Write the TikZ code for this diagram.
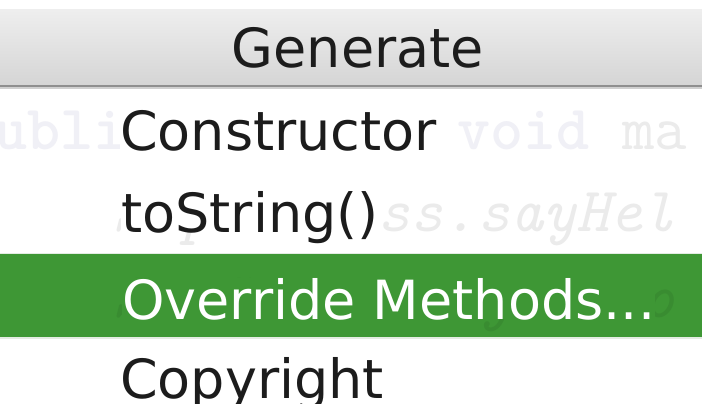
\documentclass[tikz,border=0pt]{standalone}
\usepackage{fontspec}
\setmainfont{DejaVu Sans}
\definecolor{hdrtop}{HTML}{EEEEEE}
\definecolor{hdrbot}{HTML}{D5D5D5}
\definecolor{hdrline}{HTML}{8F8F8F}
\definecolor{hdrlight}{HTML}{D0D0D0}
\definecolor{menugreen}{HTML}{3E9735}
\definecolor{menuink}{HTML}{1C1C1C}
\definecolor{codekey}{HTML}{F0F0F6}
\definecolor{codegray}{HTML}{EBEBEB}
\definecolor{codegreen}{HTML}{398C31}

\begin{document}
\begin{tikzpicture}[x=1pt,y=-1pt,
    item/.style={anchor=base west,inner sep=0pt,text depth=0pt,fill=white,
      text=menuink,font=\fontsize{54}{60}\selectfont},
    code/.style={anchor=base west,inner sep=0pt,
      font=\ttfamily\fontsize{63}{66}\selectfont}]
        \useasboundingbox (0,0) rectangle (702,404);
        \fill[white] (0,0) rectangle (702,404);
        % header bar
        \shade[top color=hdrtop,bottom color=hdrbot] (0,10) rectangle (702,85);
        \fill[hdrline] (0,85) rectangle (702,87.5);
        \fill[hdrlight] (0,87.5) rectangle (702,89);
        \node[anchor=base,inner sep=0pt,text=menuink,
          font=\fontsize{54}{60}\selectfont] (generate) at (358,67) {Generate};
        % code behind the menu
        \node[code,text=codekey,font=\ttfamily\bfseries\fontsize{63}{66}\selectfont]
          (keypub) at (-6,149) {ubli};
        \node[code,text=codekey,font=\ttfamily\bfseries\fontsize{63}{66}\selectfont]
          (keyvoid) at (457,149) {void};
        \node[code,text=codegray] (main) at (622,149) {ma};
        \node[code,text=codegray,font=\ttfamily\itshape\fontsize{63}{66}\selectfont]
          (superhello) at (113,231) {SuperClass.sayHel};
        % selected row
        \fill[menugreen] (0,254) rectangle (702,337);
        \fill[hdrlight!70!menugreen!30] (0,253) rectangle (702,254);
        \fill[hdrlight!70!menugreen!30] (0,337) rectangle (702,338.5);
        \node[code,text=codegreen,font=\ttfamily\itshape\fontsize{63}{66}\selectfont]
          (subhello) at (113,317) {SubClass.sayHello};
        % menu items
        \node[item] (constructor) at (120,150) {Constructor};
        \node[item] (tostring) at (121,232) {toString()};
        \node[item,fill=menugreen,text=white] (override) at (122,319) {Override Methods...};
        \node[item] (copyright) at (120,398) {Copyright};
\end{tikzpicture}
\end{document}
